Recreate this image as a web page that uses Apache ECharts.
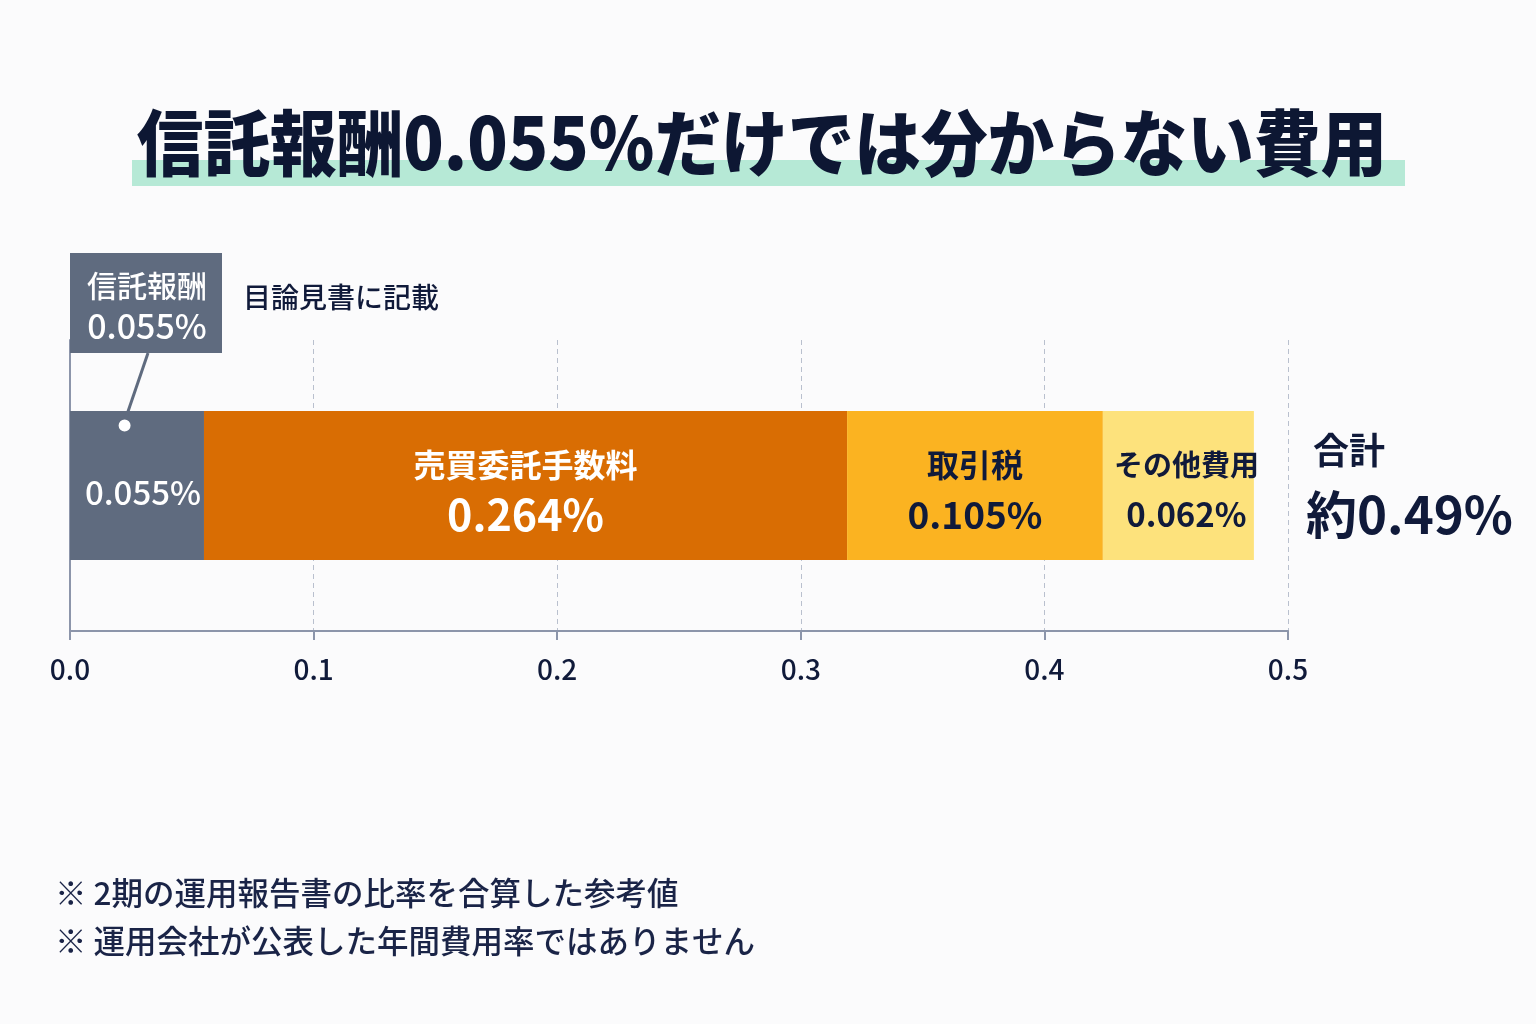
<!DOCTYPE html>
<html lang="ja">
  <head>
    <meta charset="UTF-8" />
    <title>信託報酬0.055%だけでは分からない費用</title>
    <script src="https://cdn.jsdelivr.net/npm/echarts@6.0.0/dist/echarts.min.js"></script>
    <style>
      html, body { margin: 0; padding: 0; background: #fbfbfc; }
      #main { width: 1536px; height: 1024px; }
    </style>
  </head>
  <body>
    <div id="main"></div>

    <script>
      // データ
      var seriesNames = ["信託報酬", "売買委託手数料", "取引税", "その他費用"]
      var seriesValues = [0.055, 0.264, 0.105, 0.062]
      var seriesColors = ["#5f6b7f", "#d96d03", "#fbb321", "#fde27c"]
      var xTicks = [0, 0.1, 0.2, 0.3, 0.4, 0.5]
      var totalText = "約0.49%"
      var notes = [
        "※ 2期の運用報告書の比率を合算した参考値",
        "※ 運用会社が公表した年間費用率ではありません",
      ]

      var FONT = "Noto Sans CJK JP"
      var NAVY = "#101a3a"

      var mCharts = echarts.init(document.getElementById("main"))

      // 各系列のラベル設定
      function labelFor(i) {
        var v = (seriesValues[i] * 1).toFixed(3) + "%"
        if (i === 0) {
          return {
            show: true,
            position: "inside",
            offset: [6, 7],
            color: "#ffffff",
            fontFamily: FONT,
            fontSize: 33,
            fontWeight: 500,
            formatter: v,
          }
        }
        var white = i === 1
        var nameSize = [0, 32, 32, 29][i]
        var valSize = [0, 43, 37, 33][i]
        return {
          show: true,
          position: "inside",
          offset: i === 3 ? [8, 5] : [0, 5],
          fontFamily: FONT,
          formatter: "{n|" + seriesNames[i] + "}\n{v|" + v + "}",
          rich: {
            n: {
              fontFamily: FONT,
              fontSize: nameSize,
              fontWeight: "bold",
              color: white ? "#ffffff" : NAVY,
              lineHeight: 48,
            },
            v: {
              fontFamily: FONT,
              fontSize: valSize,
              fontWeight: "bold",
              color: white ? "#ffffff" : NAVY,
              lineHeight: 52,
            },
          },
        }
      }

      var series = []
      for (let i = 0; i < seriesNames.length; i++) {
        series.push({
          name: seriesNames[i],
          type: "bar",
          stack: "cost",
          barWidth: 149,
          data: [seriesValues[i]],
          itemStyle: { color: seriesColors[i] },
          label: labelFor(i),
          emphasis: { disabled: true },
        })
      }

      var option = {
        backgroundColor: "#fbfbfc",
        animation: false,
        grid: { left: 70, right: 248, top: 340, bottom: 393, containLabel: false },
        xAxis: {
          type: "value",
          min: xTicks[0],
          max: xTicks[xTicks.length - 1],
          interval: 0.1,
          axisLine: { show: true, lineStyle: { color: "#8c95aa", width: 2 } },
          axisTick: { show: true, length: 9, lineStyle: { color: "#8c95aa", width: 2 } },
          axisLabel: {
            margin: 24,
            color: NAVY,
            fontFamily: FONT,
            fontSize: 28,
            fontWeight: 500,
            formatter: function (v) {
              return v.toFixed(1)
            },
          },
          splitLine: {
            show: true,
            lineStyle: { color: "#b9c0ce", type: [5, 4], width: 1 },
          },
        },
        yAxis: {
          type: "category",
          data: ["費用"],
          axisLine: { show: true, lineStyle: { color: "#8c95aa", width: 2 } },
          axisTick: { show: false },
          axisLabel: { show: false },
        },
        series: series,
      }

      mCharts.setOption(option)

      // 注記などの位置は軸から計算する
      var dot = mCharts.convertToPixel({ xAxisIndex: 0, yAxisIndex: 0 }, [0.022, 0])
      var axisEnd = mCharts.convertToPixel({ xAxisIndex: 0, yAxisIndex: 0 }, [0.5, 0])
      var barTop = dot[1] - 74
      var boxX = 70
      var boxY = 253
      var boxW = 152
      var boxH = 100

      mCharts.setOption({
        graphic: [
          // タイトル下のハイライト
          {
            type: "rect",
            shape: { x: 132, y: 160, width: 1273, height: 26 },
            style: { fill: "#b6e9d6" },
            z: 1,
          },
          {
            type: "text",
            x: 762,
            y: 143,
            scaleX: 0.925,
            style: {
              text: "信託報酬0.055%だけでは分からない費用",
              fontFamily: FONT,
              fontSize: 72,
              fontWeight: 900,
              fill: "#0d1733",
              align: "center",
              verticalAlign: "middle",
            },
            z: 2,
          },
          // 信託報酬の吹き出し
          {
            type: "rect",
            shape: { x: boxX, y: boxY, width: boxW, height: boxH },
            style: { fill: "#5f6b7f" },
            z: 5,
          },
          {
            type: "text",
            x: boxX + boxW / 2 + 1,
            y: boxY + 33,
            style: {
              text: "信託報酬",
              fontFamily: FONT,
              fontSize: 30,
              fontWeight: 500,
              fill: "#ffffff",
              align: "center",
              verticalAlign: "middle",
            },
            z: 6,
          },
          {
            type: "text",
            x: boxX + boxW / 2 + 1,
            y: boxY + 73,
            style: {
              text: "0.055%",
              fontFamily: FONT,
              fontSize: 34,
              fontWeight: 500,
              fill: "#ffffff",
              align: "center",
              verticalAlign: "middle",
            },
            z: 6,
          },
          {
            type: "line",
            shape: { x1: 148, y1: boxY + boxH, x2: dot[0] + 1, y2: barTop + 10 },
            style: { stroke: "#5f6b7f", lineWidth: 3 },
            z: 6,
          },
          {
            type: "circle",
            shape: { cx: dot[0] + 1, cy: barTop + 14, r: 6 },
            style: { fill: "#ffffff" },
            z: 7,
          },
          {
            type: "text",
            x: 243,
            y: 297,
            style: {
              text: "目論見書に記載",
              fontFamily: FONT,
              fontSize: 28,
              fontWeight: 500,
              fill: NAVY,
              verticalAlign: "middle",
            },
          },
          // 合計
          {
            type: "text",
            x: axisEnd[0] + 25,
            y: 450,
            style: {
              text: "合計",
              fontFamily: FONT,
              fontSize: 36,
              fontWeight: "bold",
              fill: NAVY,
              verticalAlign: "middle",
            },
          },
          {
            type: "text",
            x: axisEnd[0] + 18,
            y: 515,
            style: {
              text: totalText,
              fontFamily: FONT,
              fontSize: 51,
              fontWeight: "bold",
              fill: NAVY,
              verticalAlign: "middle",
            },
          },
          // 注記
          {
            type: "text",
            x: 55,
            y: 893,
            style: {
              text: notes[0],
              fontFamily: FONT,
              fontSize: 31.5,
              fontWeight: 500,
              fill: "#1a2447",
              verticalAlign: "middle",
            },
          },
          {
            type: "text",
            x: 55,
            y: 941,
            style: {
              text: notes[1],
              fontFamily: FONT,
              fontSize: 31.5,
              fontWeight: 500,
              fill: "#1a2447",
              verticalAlign: "middle",
            },
          },
        ],
      })
    </script>
  </body>
</html>
